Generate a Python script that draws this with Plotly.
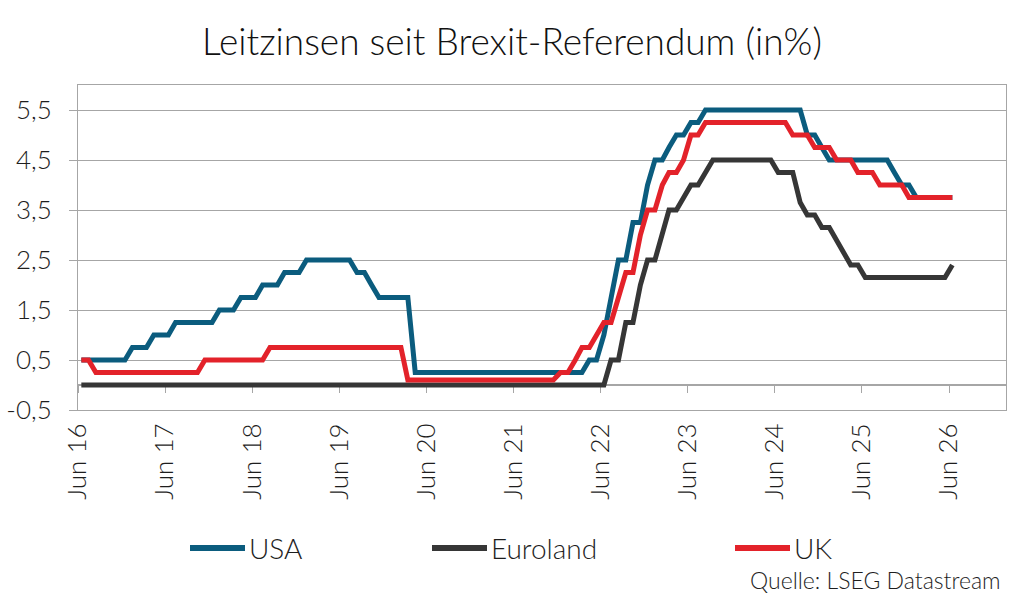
import pandas as pd
import plotly.graph_objects as go

# Monthly observations, Jun 2016 .. Jun 2026
months = pd.date_range("2016-06-01", periods=121, freq="MS") + pd.Timedelta(days=14)

usa = ([0.5] * 7 + [0.75] * 3 + [1.0] * 3 + [1.25] * 6 + [1.5] * 3 + [1.75] * 3 +
       [2.0] * 3 + [2.25] * 3 + [2.5] * 7 + [2.25] * 2 + [2.0] + [1.75] * 5 +
       [0.25] * 24 + [0.5] * 2 + [1.0] + [1.75] + [2.5] * 2 + [3.25] * 2 + [4.0] +
       [4.5] * 2 + [4.75] + [5.0] * 2 + [5.25] * 2 + [5.5] * 14 + [5.0] * 2 + [4.75] +
       [4.5] * 9 + [4.25] + [4.0] * 2 + [3.75] * 6)

euroland = ([0.0] * 73 + [0.5] * 2 + [1.25] * 2 + [2.0] + [2.5] * 2 + [3.0] +
            [3.5] * 2 + [3.75] + [4.0] * 2 + [4.25] + [4.5] * 9 + [4.25] * 3 + [3.65] +
            [3.4] * 2 + [3.15] * 2 + [2.9] + [2.65] + [2.4] * 2 + [2.15] * 12 + [2.4])

uk = ([0.5] * 2 + [0.25] * 15 + [0.5] * 9 + [0.75] * 19 + [0.1] * 21 + [0.25] * 2 +
      [0.5] + [0.75] * 2 + [1.0] + [1.25] * 2 + [1.75] + [2.25] * 2 + [3.0] +
      [3.5] * 2 + [4.0] + [4.25] * 2 + [4.5] + [5.0] * 2 + [5.25] * 12 + [5.0] * 3 +
      [4.75] * 3 + [4.5] * 3 + [4.25] * 3 + [4.0] * 4 + [3.75] * 7)

series_names = ["USA", "Euroland", "UK"]
series_colors = ["#0B5C7E", "#363636", "#E3222A"]

x_tick_vals = ["2016-06-01", "2017-06-01", "2018-06-01", "2019-06-01", "2020-06-01",
               "2021-06-01", "2022-06-01", "2023-06-01", "2024-06-01", "2025-06-01",
               "2026-06-01"]
x_tick_labels = ["Jun 16", "Jun 17", "Jun 18", "Jun 19", "Jun 20", "Jun 21",
                 "Jun 22", "Jun 23", "Jun 24", "Jun 25", "Jun 26"]
y_tick_vals = [-0.5, 0.5, 1.5, 2.5, 3.5, 4.5, 5.5]
y_tick_labels = ["-0,5", "0,5", "1,5", "2,5", "3,5", "4,5", "5,5"]

FONT = "Lato"
W = 300
GRID = "#A6A6A6"
TXT = "#1E1E1E"
x_range = ["2016-06-01", "2027-01-26"]
y_range = [-0.5, 6.0]

fig = go.Figure()
for name, vals, col in zip(series_names, [usa, euroland, uk], series_colors):
    fig.add_trace(go.Scatter(x=months, y=vals, name=name, mode="lines",
                             line=dict(color=col, width=5), showlegend=False))
# empty trace to register the zero-line axis
fig.add_trace(go.Scatter(x=[], y=[], xaxis="x2", showlegend=False))

fig.update_layout(
    width=1024, height=596, autosize=False,
    margin=dict(l=78, r=18, t=85, b=186, pad=0, autoexpand=False),
    paper_bgcolor="white", plot_bgcolor="white",
    font=dict(family=FONT, color=TXT, weight=W),
    title=dict(text="Leitzinsen seit Brexit-Referendum (in%)", x=0.5, xref="container",
               xanchor="center", y=1 - 42 / 596, yref="container", yanchor="middle",
               font=dict(size=37, color="#111111", family=FONT, weight=W)),
    xaxis=dict(type="date", range=x_range, tickmode="array", tickvals=x_tick_vals,
               ticktext=x_tick_labels, tickangle=-90, ticks="", showline=True,
               linecolor=GRID, linewidth=1, mirror=True, showgrid=False, zeroline=False,
               tickfont=dict(size=26, color=TXT, weight=W), ticklabelstandoff=2,
               automargin=False),
    xaxis2=dict(type="date", range=x_range, overlaying="x", anchor="free",
                position=(0 - y_range[0]) / (y_range[1] - y_range[0]),
                tickmode="array", tickvals=x_tick_vals, showticklabels=False,
                ticks="outside", ticklen=7, tickcolor=GRID, tickwidth=1,
                showline=True, linecolor=GRID, linewidth=1.5, showgrid=False,
                zeroline=False, layer="below traces", automargin=False),
    yaxis=dict(range=y_range, tickmode="array", tickvals=y_tick_vals,
               ticktext=y_tick_labels, showgrid=True, gridcolor=GRID, gridwidth=1,
               showline=True, linecolor=GRID, linewidth=1, mirror=True,
               ticks="outside", ticklen=8, tickcolor=GRID, zeroline=False,
               tickfont=dict(size=26, color=TXT, weight=W), ticklabelstandoff=12,
               automargin=False),
)

# custom legend below the plot (paper coordinates of the plot area)
plot_l, plot_r, plot_t, plot_b = 78, 1006, 85, 410
def px(xp):
    return (xp - plot_l) / (plot_r - plot_l)
def py(yp):
    return (plot_b - yp) / (plot_b - plot_t)

legend_line_x = [190, 432, 735]
for name, col, lx in zip(series_names, series_colors, legend_line_x):
    fig.add_shape(type="line", xref="paper", yref="paper",
                  x0=px(lx), x1=px(lx + 55), y0=py(548), y1=py(548),
                  line=dict(color=col, width=6))
    fig.add_annotation(text=name, xref="paper", yref="paper", x=px(lx + 57), y=py(548),
                       xanchor="left", yanchor="middle", showarrow=False,
                       font=dict(size=28, color=TXT, family=FONT, weight=W))

fig.add_annotation(text="Quelle: LSEG Datastream", xref="paper", yref="paper",
                   x=px(1003), y=py(580), xanchor="right", yanchor="middle",
                   showarrow=False, font=dict(size=23, color=TXT, family=FONT, weight=W))

fig.write_html("out.html")
